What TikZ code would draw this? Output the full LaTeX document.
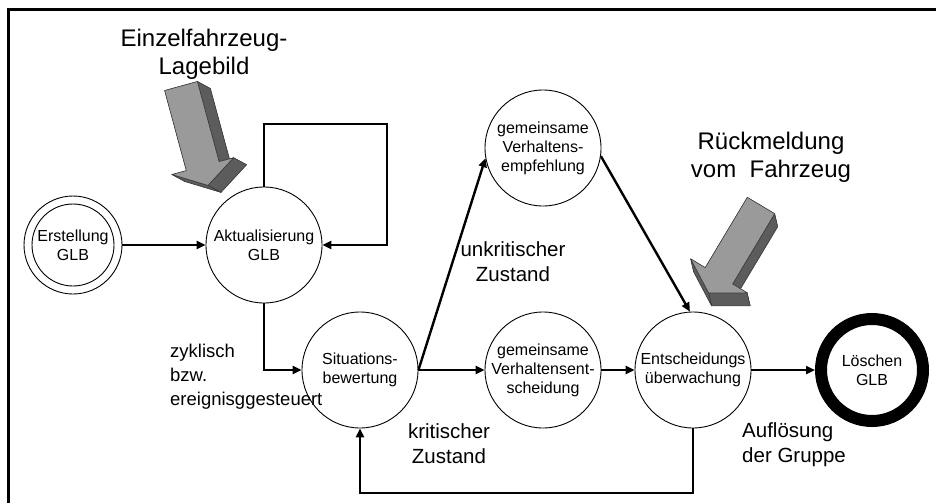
\documentclass[tikz,border=0pt]{standalone}
\usepackage{fontspec}
\setmainfont{Liberation Sans}
\usetikzlibrary{arrows.meta,calc}
\definecolor{frontgray}{HTML}{9A9A9A}
\definecolor{sidegray}{HTML}{5C5C5C}
\definecolor{edgegray}{HTML}{3A3A3A}
\begin{document}
\begin{tikzpicture}[x=1pt,y=-1pt,
  state/.style={circle,draw,line width=0.9pt,minimum size=116pt,inner sep=0pt,
    align=center,font=\fontsize{16}{19}\selectfont},
  lbl/.style={align=center,inner sep=0pt,font=\fontsize{20.5}{25}\selectfont},
  toplbl/.style={align=center,inner sep=0pt,font=\fontsize{24}{28}\selectfont},
  conn/.style={line width=2.4pt,line join=miter,-{Triangle[length=9pt,width=8pt]}},
  front/.style={fill=frontgray,draw=edgegray,line width=0.6pt,line join=round},
  side/.style={fill=sidegray,draw=edgegray,line width=0.6pt,line join=round},
  sidefill/.style={fill=sidegray}]

\useasboundingbox (0,0) rectangle (936,503);

% frame (top and left edges only)
\draw[line width=3pt] (8.5,503) -- (8.5,9.5) -- (936,9.5);

% states
\node[state,minimum size=82pt] (E) at (73,245) {Erstellung\\GLB};
\node[circle,draw,line width=0.9pt,minimum size=98pt,inner sep=0pt] (Eo) at (73,245) {};
\node[state] (A) at (264,245) {Aktualisierung\\GLB};
\node[state] (S) at (360,370) {Situations-\\bewertung};
\node[state] (GE) at (543,148) {gemeinsame\\Verhaltens-\\empfehlung};
\node[state] (GV) at (543,370) {gemeinsame\\Verhaltensent-\\scheidung};
\node[state] (U) at (693,370) {Entscheidungs\\überwachung};
\node[circle,draw,line width=12pt,minimum size=102pt,inner sep=0pt,
  align=center,font=\fontsize{16}{19}\selectfont] (L) at (872,370) {Löschen\\GLB};

% labels
\node[toplbl] (einz) at (204,54) {Einzelfahrzeug-\\Lagebild};
\node[toplbl] (rueck) at (771,157) {Rückmeldung\\vom\ \ Fahrzeug};
\node[lbl,align=left,anchor=west,font=\fontsize{18.5}{24}\selectfont] (zykl) at (170,377) {zyklisch\\bzw.\\ereignisggesteuert};
\node[lbl] (unk) at (513,262) {unkritischer\\Zustand};
\node[lbl] (krit) at (449,444) {kritischer\\Zustand};
\node[lbl,align=left,anchor=west] (aufl) at (742,445) {Auflösung\\der Gruppe};

% connectors
\coordinate (loopTL) at (264,124);
\coordinate (loopTR) at (387,124);
\coordinate (loopBR) at (387,245);
\coordinate (fb) at (693,493);
\draw[conn] (Eo.east) -- (A.west);
\draw[conn] (A.north) -- (loopTL) -- (loopTR) -- (loopBR) -- (A.east);
\draw[conn] (A.south) |- (S.west);
\draw[conn] (S.east) -- (GV.west);
\draw[conn] (S.east) -- (GE.190);
\draw[conn] (GE.-8) -- (U.93);
\draw[conn] (GV.east) -- (U.west);
\draw[conn] (U.east) -- (L.west);
\draw[conn] (U.south) -- (fb) -| (S.south);

% block arrow: Einzelfahrzeug-Lagebild
\begin{scope}
  \coordinate (p1) at (164.6,90.5);
  \coordinate (p2) at (197.4,81.5);
  \coordinate (p3) at (219.1,161.6);
  \coordinate (p4) at (233.6,157.7);
  \coordinate (p5) at (208.0,185.4);
  \coordinate (p6) at (171.8,174.5);
  \coordinate (p7) at (186.3,170.6);
  \coordinate (e) at (13,7);
  \fill[sidefill,shift={(13,7)}] (p1) -- (p2) -- (p3) -- (p4) -- (p5) -- (p6) -- (p7) -- cycle;
  \foreach \a/\b in {p1/p2,p2/p3,p3/p4,p4/p5,p5/p6,p6/p7,p7/p1}
    \fill[sidefill] (\a) -- (\b) -- ($(\b)+(e)$) -- ($(\a)+(e)$) -- cycle;
  \foreach \a/\b in {p2/p3,p4/p5,p5/p6}
    \filldraw[side] (\a) -- (\b) -- ($(\b)+(e)$) -- ($(\a)+(e)$) -- cycle;
  \filldraw[front] (p1) -- (p2) -- (p3) -- (p4) -- (p5) -- (p6) -- (p7) -- cycle;
\end{scope}

% block arrow: Rückmeldung vom Fahrzeug
\begin{scope}
  \coordinate (q1) at (747.3,197.3);
  \coordinate (q2) at (774.7,213.7);
  \coordinate (q3) at (732.6,284.0);
  \coordinate (q4) at (747.2,292.8);
  \coordinate (q5) at (708.6,292.9);
  \coordinate (q6) at (690.6,258.8);
  \coordinate (q7) at (705.2,267.6);
  \coordinate (f) at (3,13);
  \fill[sidefill,shift={(3,13)}] (q1) -- (q2) -- (q3) -- (q4) -- (q5) -- (q6) -- (q7) -- cycle;
  \foreach \a/\b in {q1/q2,q2/q3,q3/q4,q4/q5,q5/q6,q6/q7,q7/q1}
    \fill[sidefill] (\a) -- (\b) -- ($(\b)+(f)$) -- ($(\a)+(f)$) -- cycle;
  \foreach \a/\b in {q2/q3,q4/q5,q5/q6}
    \filldraw[side] (\a) -- (\b) -- ($(\b)+(f)$) -- ($(\a)+(f)$) -- cycle;
  \filldraw[front] (q1) -- (q2) -- (q3) -- (q4) -- (q5) -- (q6) -- (q7) -- cycle;
\end{scope}
\end{tikzpicture}
\end{document}
